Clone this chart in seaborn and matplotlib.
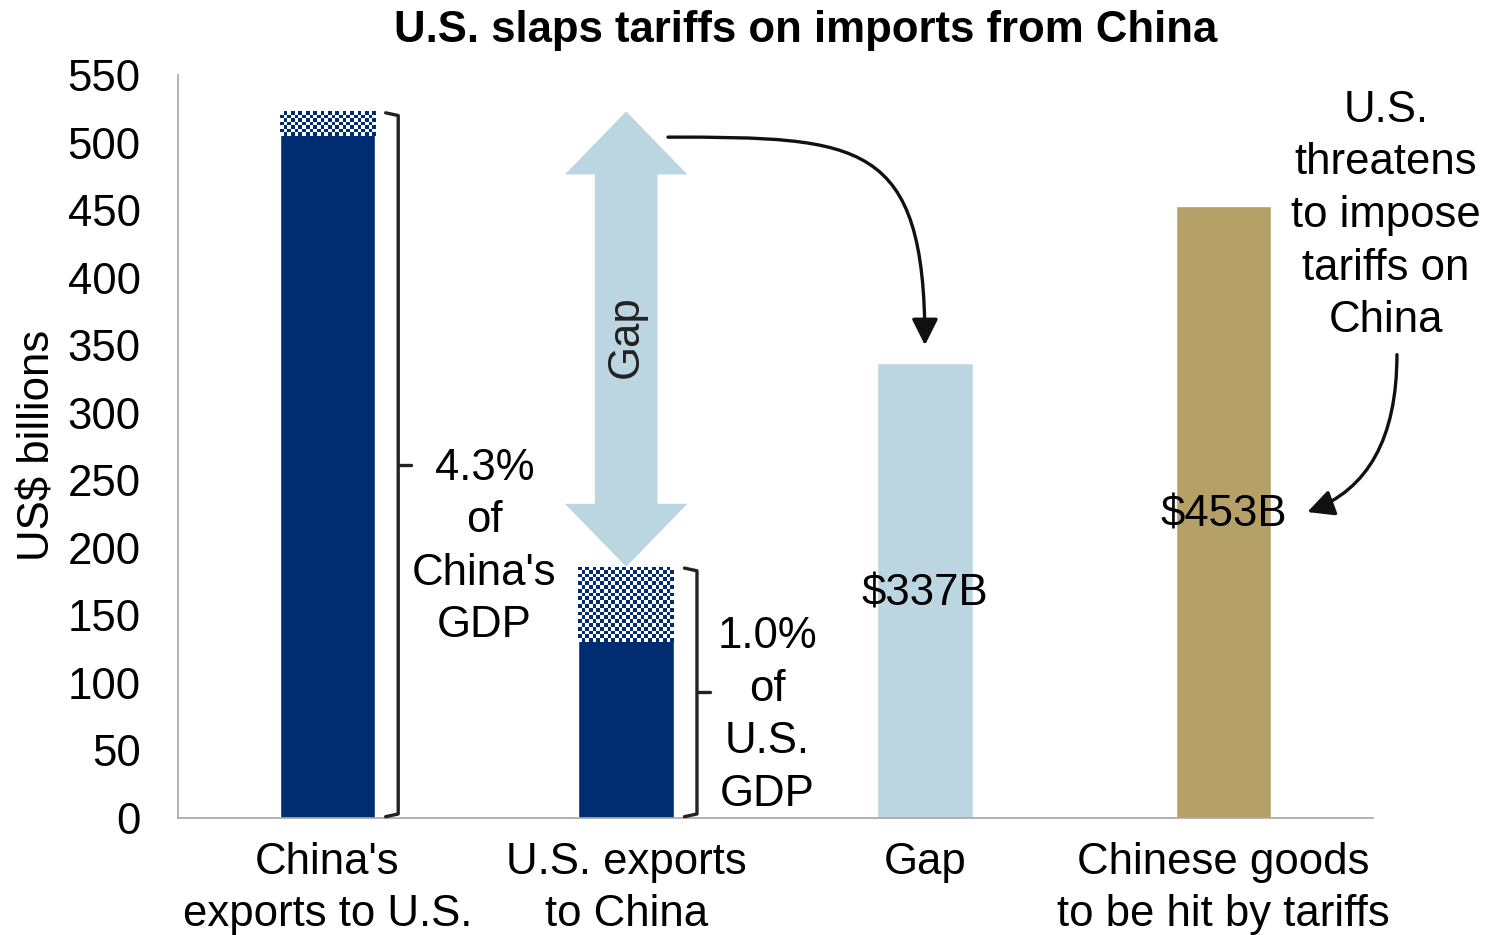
import numpy as np
import pandas as pd
import matplotlib
matplotlib.use("Agg")
import matplotlib.pyplot as plt
from matplotlib.patches import Polygon, FancyArrowPatch
from matplotlib.path import Path
import seaborn as sns

# --- data (US$ billions) ---
categories = ["China's\nexports to U.S.", "U.S. exports\nto China", "Gap",
              "Chinese goods\nto be hit by tariffs"]
goods = [505, 130, 337, 453]          # solid part of each bar
services = [18, 56, 0, 0]             # checkered part on top
bar_labels = ["", "", "$337B", "$453B"]
yticks = list(range(0, 551, 50))

NAVY = "#002D72"
LIGHT = "#BCD6E1"
GOLD = "#B5A068"
palette = [NAVY, NAVY, LIGHT, GOLD]

totals = [g + s for g, s in zip(goods, services)]
df = pd.DataFrame({"cat": categories, "total": totals})

sns.set_style("white")
plt.rcParams["font.family"] = ["Liberation Sans", "DejaVu Sans"]
for key in ["text.color", "axes.labelcolor", "xtick.color", "ytick.color"]:
    plt.rcParams[key] = "#000000"
FS = 31.5
LS = 1.36
INK = "#000000"

fig = plt.figure(figsize=(14.91, 9.35), dpi=100)
ax = fig.add_axes([0.1194, 0.1251, 0.8015, 0.7947])

BW = 0.32
sns.barplot(data=df, x="cat", y="total", hue="cat", palette=palette,
            width=BW, saturation=1, legend=False, ax=ax)

ax.set_ylim(0, 550)
ax.set_xlim(-0.5, len(categories) - 0.5)
ax.set_yticks(yticks)
ax.set_yticklabels([str(t) for t in yticks], fontsize=FS)
ax.tick_params(axis="y", length=0, pad=27)
ax.tick_params(axis="x", length=0, pad=17, labelsize=FS)
for lab in ax.get_xticklabels():
    lab.set_linespacing(LS)
ax.set_xlabel("")
ax.set_ylabel("US$ billions", fontsize=FS)
ax.yaxis.set_label_coords(-0.100, 0.502)

for side in ["top", "right"]:
    ax.spines[side].set_visible(False)
for side in ["left", "bottom"]:
    ax.spines[side].set_color("#A6A6A6")
    ax.spines[side].set_linewidth(1.2)

fig.canvas.draw()

# checkered fill on the services portion of each bar
bars = ax.patches
cell_px = 3.7
checker_cmap = matplotlib.colors.ListedColormap(["white", NAVY])
for i, bar in enumerate(bars[:len(categories)]):
    if services[i] <= 0:
        continue
    x0 = bar.get_x()
    x1 = x0 + bar.get_width()
    y0, y1 = goods[i], totals[i]
    p0 = ax.transData.transform((x0, y0))
    p1 = ax.transData.transform((x1, y1))
    nx = max(1, int(round(abs(p1[0] - p0[0]) / cell_px)))
    ny = max(1, int(round(abs(p1[1] - p0[1]) / cell_px)))
    board = (np.add.outer(np.arange(ny), np.arange(nx)) % 2).astype(float)
    im = ax.imshow(board, cmap=checker_cmap, extent=(x0, x1, y0, y1), origin="lower",
                   interpolation="nearest", aspect="auto", zorder=bar.get_zorder() + 0.1)
    im.set_clip_path(bar)
ax.set_xlim(-0.5, len(categories) - 0.5)
ax.set_ylim(0, 550)

# value labels inside the last two bars
for i, txt in enumerate(bar_labels):
    if txt:
        ax.text(i, goods[i] / 2 - 2.5, txt, ha="center", va="center", fontsize=FS, color=INK)

# brackets beside the first two bars
BR = "#222222"
notes = [(0, "4.3%\nof\nChina's\nGDP", 0.525, -61), (1, "1.0%\nof\nU.S.\nGDP", 0.472, -17)]
for i, note, dx, dy in notes:
    xv = i + 0.237
    xa = i + 0.195
    xt = i + 0.28
    top, bot = totals[i], 0
    ax.plot([xa, xv, xv, xa], [top - 1, top - 3, bot + 3, bot + 1], color=BR, lw=2.4,
            solid_joinstyle="round", solid_capstyle="round", clip_on=False, zorder=5)
    ax.plot([xv, xt], [top / 2, top / 2], color=BR, lw=2.4, solid_capstyle="round", zorder=5)
    ax.text(i + dx, top / 2 + dy, note, ha="center", va="center", fontsize=FS,
            linespacing=LS, color=INK)

# double-headed "Gap" arrow between the two export totals
cx = 1.0
hw, sw = 0.205, 0.105
hl = 46.6
yt, yb = totals[0], totals[1]
pts = [(cx, yt), (cx + hw, yt - hl), (cx + sw, yt - hl), (cx + sw, yb + hl),
       (cx + hw, yb + hl), (cx, yb), (cx - hw, yb + hl), (cx - sw, yb + hl),
       (cx - sw, yt - hl), (cx - hw, yt - hl)]
ax.add_patch(Polygon(pts, closed=True, facecolor=LIGHT, edgecolor="none", zorder=3))
ax.text(cx, (yt + yb) / 2 + 2, "Gap", rotation=90, ha="center", va="center",
        fontsize=FS, color="#222222", zorder=4)

# curved arrow from the gap to the "Gap" bar (cubic Bezier)
sx, sy = 1.14, 504
ex, ey = 2.0, goods[2] + 13
curve = Path([(sx, sy), (sx + 0.75 * (ex - sx), sy), (ex, sy - 2), (ex, ey)],
             [Path.MOVETO, Path.CURVE4, Path.CURVE4, Path.CURVE4])
ax.add_patch(FancyArrowPatch(path=curve, arrowstyle="-|>,head_length=0.8,head_width=0.4",
                             mutation_scale=20, color="#111111", lw=2.4, zorder=6))

# threat note with arrow pointing to the tariff label
ax.text(3.543, 446, "U.S.\nthreatens\nto impose\ntariffs on\nChina", ha="center",
        va="center", fontsize=FS, linespacing=LS, color=INK, clip_on=False)
ax.annotate("", xy=(3.28, goods[3] / 2), xytext=(3.58, 343),
            arrowprops=dict(arrowstyle="-|>,head_length=0.8,head_width=0.4",
                            mutation_scale=20, color="#111111", lw=2.4,
                            connectionstyle="angle3,angleA=-90,angleB=20",
                            shrinkA=0, shrinkB=0), annotation_clip=False)

fig.text(0.54, 0.967, "U.S. slaps tariffs on imports from China", ha="center", va="center",
         fontsize=FS, fontweight="bold", color=INK)

fig.savefig("out.png", dpi=100, facecolor="white")
